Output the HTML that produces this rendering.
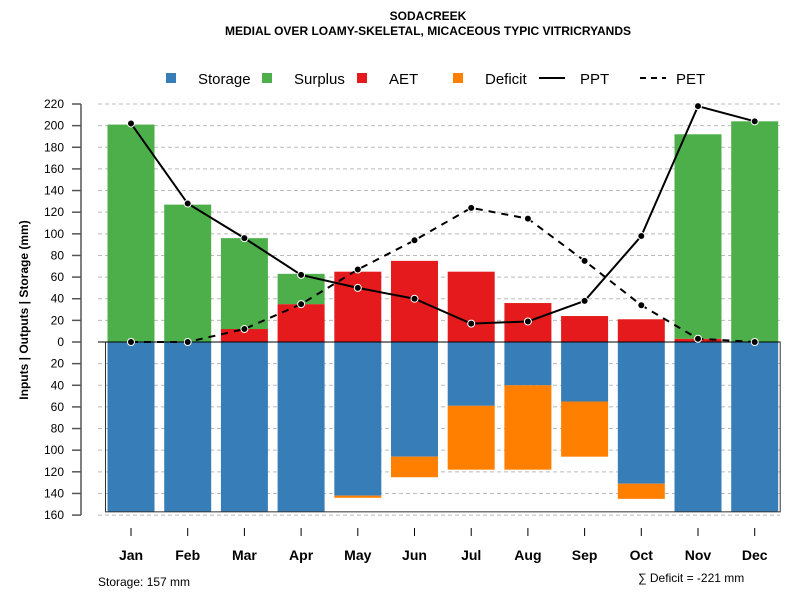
<!DOCTYPE html>
<html><head><meta charset="utf-8"><style>
body{margin:0;background:#fff;font-family:"Liberation Sans",sans-serif}
svg text{font-family:"Liberation Sans",sans-serif}
</style></head><body>
<svg id="c" width="800" height="600">
<text x="428" y="20" text-anchor="middle" font-size="12" font-weight="bold">SODACREEK</text>
<text x="428" y="35" text-anchor="middle" font-size="12" font-weight="bold">MEDIAL OVER LOAMY-SKELETAL, MICACEOUS TYPIC VITRICRYANDS</text>
<g id="legend" font-size="15">
<g><rect x="166" y="73" width="10" height="10" fill="#377eb8"/><text x="198" y="84">Storage</text></g>
<g><rect x="262" y="73" width="10" height="10" fill="#4daf4a"/><text x="294" y="84">Surplus</text></g>
<g><rect x="357" y="73" width="10" height="10" fill="#e41a1c"/><text x="389" y="84">AET</text></g>
<g><rect x="453" y="73" width="10" height="10" fill="#ff7f00"/><text x="485" y="84">Deficit</text></g>
<g><line x1="539" y1="78" x2="565" y2="78" stroke="#000" stroke-width="2"/><text x="580" y="84">PPT</text></g>
<g><line x1="640" y1="78" x2="666" y2="78" stroke="#000" stroke-width="2" stroke-dasharray="6,5"/><text x="676" y="84">PET</text></g>
</g>
<text transform="translate(28,310) rotate(-90)" text-anchor="middle" font-size="12" font-weight="bold">Inputs | Outputs | Storage    (mm)</text>
<text x="98" y="586" font-size="12">Storage: 157 mm</text>
<text x="638" y="582" font-size="12">∑ Deficit = -221 mm</text>
</svg>
<script>
const months=["Jan","Feb","Mar","Apr","May","Jun","Jul","Aug","Sep","Oct","Nov","Dec"];
const ppt=[202,128,96,62,50,40,17,19,38,98,218,204];
const pet=[0,0,12,35,67,94,124,114,75,34,3,0];
const aet=[0,0,12,35,65,75,65,36,24,21,3,0];
const surplus=[201,127,84,28,0,0,0,0,0,0,189,204];
const storage=[157,157,157,157,142,106,59,40,55,131,157,157];
const deficit=[0,0,0,0,2,19,59,78,51,14,0,0];
const yTicks=[220,200,180,160,140,120,100,80,60,40,20,0,-20,-40,-60,-80,-100,-120,-140,-160];
const svg=document.getElementById('c');
const NS='http://www.w3.org/2000/svg';
const y=v=>342-v*1.0818;
const x=i=>131+i*56.7;
const bw=47;
function mk(t,a){const e=document.createElementNS(NS,t);for(const k in a)e.setAttribute(k,a[k]);svg.appendChild(e);return e;}
// axis
let ax=mk('line',{x1:81,x2:81,y1:y(220),y2:y(-160),stroke:'#555','stroke-width':1.5});


yTicks.forEach(v=>{
 let g=mk('line',{x1:98,x2:780,y1:y(v),y2:y(v),stroke:'#bbb','stroke-dasharray':'4,3'});
 
 
 let t=mk('line',{x1:72,x2:81,y1:y(v),y2:y(v),stroke:'#555','stroke-width':1.5});
 
 
 let l=mk('text',{x:64,y:y(v)+4,'text-anchor':'end','font-size':12});
 l.textContent=Math.abs(v);
 
 
});
months.forEach((m,i)=>{
 const cx=x(i),x0=cx-bw/2;
 let s=mk('rect',{x:x0,y:y(0),width:bw,height:y(-storage[i])-y(0),fill:'#377eb8'});
 
 
 if(deficit[i]>0){let d=mk('rect',{x:x0,y:y(-storage[i]),width:bw,height:deficit[i]*1.0818,fill:'#ff7f00'});
 
 }
 if(aet[i]>0){let a=mk('rect',{x:x0,y:y(aet[i]),width:bw,height:aet[i]*1.0818,fill:'#e41a1c'});
 
 }
 if(surplus[i]>0){let p=mk('rect',{x:x0,y:y(aet[i]+surplus[i]),width:bw,height:surplus[i]*1.0818,fill:'#4daf4a'});
 
 }
 let t=mk('line',{x1:cx,x2:cx,y1:528,y2:536,stroke:'#000'});
 
 
 let l=mk('text',{x:cx,y:560,'text-anchor':'middle','font-size':14,'font-weight':'bold'});
 l.textContent=m;
 
 
});
let fr=mk('rect',{x:x(0)-bw/2-2,y:y(0),width:x(11)-x(0)+bw+4,height:157*1.0818,fill:'none',stroke:'#333','stroke-width':1});


let zl=mk('line',{x1:98,x2:780,y1:y(0),y2:y(0),stroke:'#000','stroke-width':1});


function series(arr,name,dash){
 let pl=mk('polyline',{points:arr.map((v,i)=>x(i)+','+y(v)).join(' '),fill:'none',stroke:'#000','stroke-width':2,'stroke-dasharray':dash});
 
 
 arr.forEach((v,i)=>{let c=mk('circle',{cx:x(i),cy:y(v),r:3.5,fill:'#000',stroke:'#fff','stroke-width':1});
 
 });
}
series(pet,'pet','7,6');
series(ppt,'ppt','none');
</script>
</body></html>
